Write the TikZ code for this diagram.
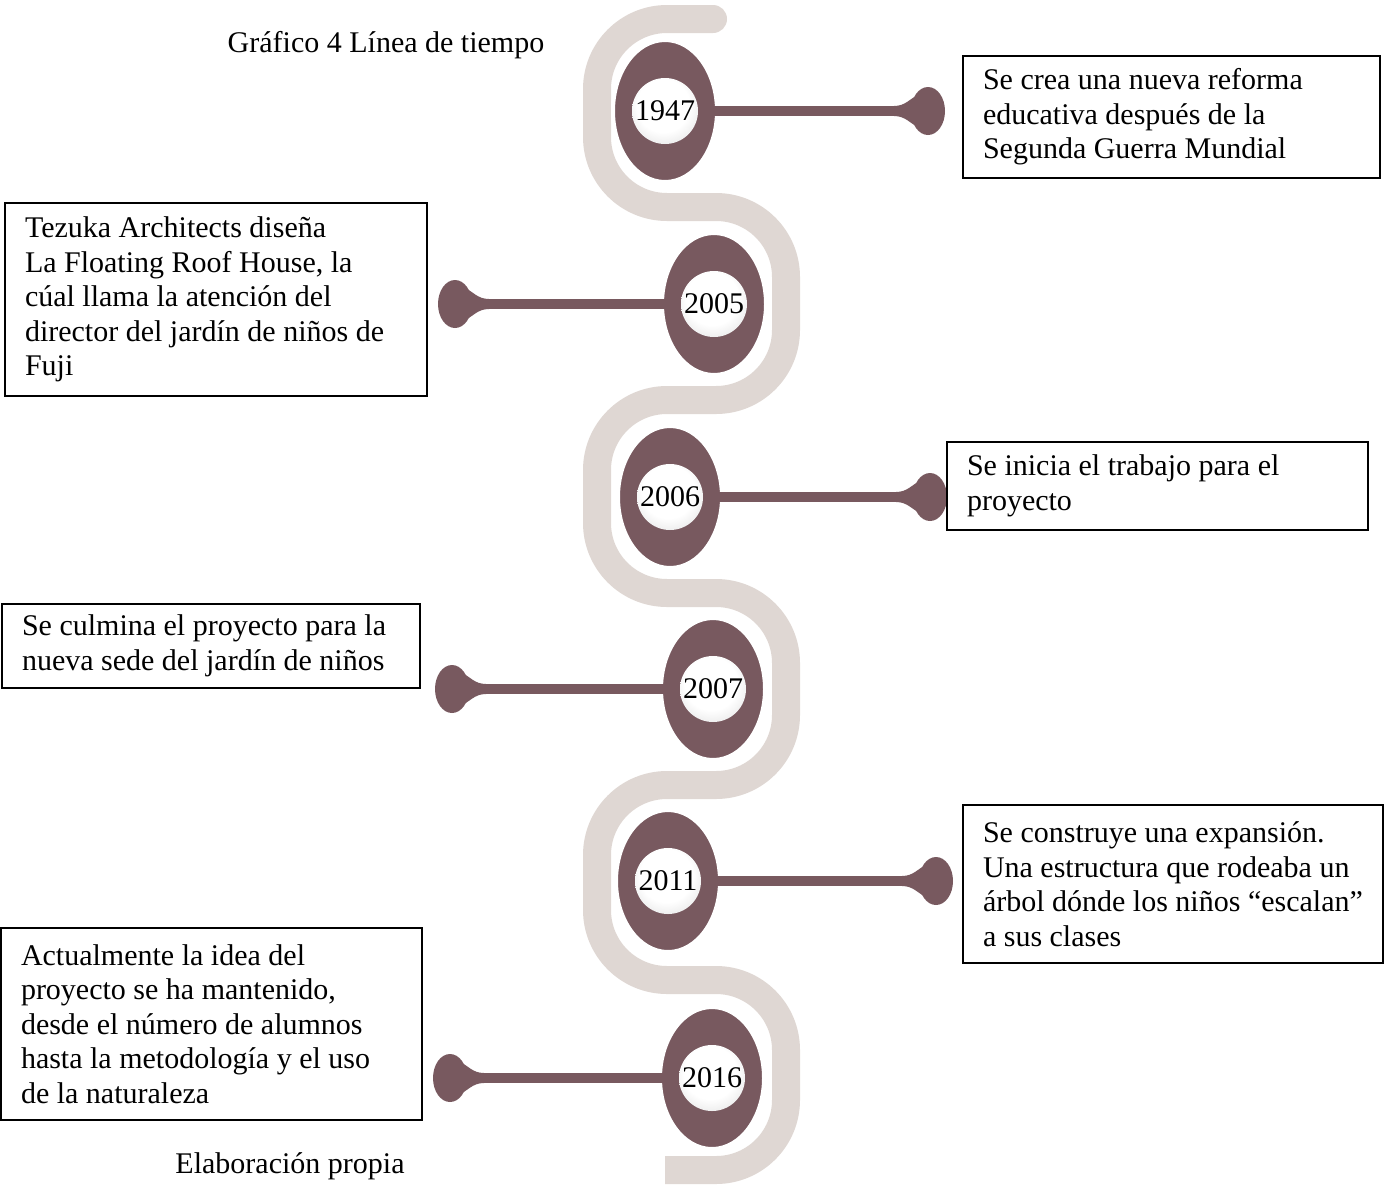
\documentclass[tikz,border=0pt]{standalone}
\usepackage{fontspec}
\setmainfont{Liberation Serif}
\usetikzlibrary{shapes.geometric,calc}
\definecolor{dark}{RGB}{120,89,95}
\definecolor{beige}{RGB}{223,215,211}
\pgfdeclareradialshading{orb}{\pgfpoint{-2bp}{6bp}}{color(0bp)=(white); color(20bp)=(white); color(38bp)=(black!14); color(52bp)=(black!36); color(60bp)=(black!36)}
\newcommand\flare[2]{\fill[dark, shift={(#1.center)}, xscale=#2] (-34,-5) .. controls (-22,-5) and (-18,-13) .. (-8,-17) -- (-8,17) .. controls (-18,13) and (-22,5) .. (-34,5) -- cycle;}
\begin{document}
\begin{tikzpicture}[x=1pt,y=-1pt,
  every node/.style={font=\fontsize{30}{34.5}\selectfont},
  ell/.style={ellipse, fill=dark, draw=white, line width=4pt, minimum width=104pt, minimum height=142pt, inner sep=0pt},
  yearball/.style={circle, shading=orb, minimum size=66pt, inner sep=0pt},
  pin/.style={ellipse, fill=dark, minimum width=34pt, minimum height=48pt, inner sep=0pt},
  conn/.style={dark, line width=10pt},
  box/.style={draw=black, line width=1.6pt, align=flush left, inner xsep=20pt, inner ysep=0pt, fill=white},
  band/.style={beige, line width=28pt, rounded corners=70pt}]
\clip (0,0) rectangle (1384,1184);
\useasboundingbox (0,0) rectangle (1384,1184);

% wave band
\draw[band] (713,19) -- (597,19) -- (597,207) -- (786,207) -- (786,400) -- (597,400) -- (597,593) -- (786,593) -- (786,785) -- (597,785) -- (597,980) -- (786,980) -- (786,1170) -- (665,1170);
\fill[beige] (713,19) circle (14pt);

% year ellipses
\node[ell] (e1) at (665,111) {};
\node[ell] (e2) at (714,304) {};
\node[ell] (e3) at (670,497) {};
\node[ell] (e4) at (713,689) {};
\node[ell] (e5) at (668,881) {};
\node[ell] (e6) at (712,1078) {};

% pins
\node[pin] (d1) at (928,111) {};
\node[pin] (d2) at (455,304) {};
\node[pin] (d3) at (930,497) {};
\node[pin] (d4) at (452,689) {};
\node[pin] (d5) at (936,881) {};
\node[pin] (d6) at (450,1078) {};

% connectors
\draw[conn] (e1.center) -- (d1.center);
\draw[conn] (e2.center) -- (d2.center);
\draw[conn] (e3.center) -- (d3.center);
\draw[conn] (e4.center) -- (d4.center);
\draw[conn] (e5.center) -- (d5.center);
\draw[conn] (e6.center) -- (d6.center);
\flare{d1}{1}
\flare{d2}{-1}
\flare{d3}{1}
\flare{d4}{-1}
\flare{d5}{1}
\flare{d6}{-1}

% year balls
\node[yearball] (y1) at (e1) {1947};
\node[yearball] (y2) at (e2) {2005};
\node[yearball] (y3) at (e3) {2006};
\node[yearball] (y4) at (e4) {2007};
\node[yearball] (y5) at (e5) {2011};
\node[yearball] (y6) at (e6) {2016};

% boxes
\node[box, minimum width=417pt, minimum height=122pt, text width=377pt] (b1) at (1171.5,117)
  {Se crea una nueva reforma\\educativa después de la\\Segunda Guerra Mundial};
\node[box, minimum width=422pt, minimum height=193pt, text width=382pt] (b2) at (216,299.5)
  {Tezuka Architects diseña\\La Floating Roof House, la\\cúal llama la atención del\\director del jardín de niños de\\Fuji};
\node[box, minimum width=421pt, minimum height=88pt, text width=381pt] (b3) at (1157.5,486)
  {Se inicia el trabajo para el\\proyecto};
\node[box, minimum width=418pt, minimum height=84pt, text width=378pt] (b4) at (211,646)
  {Se culmina el proyecto para la\\nueva sede del jardín de niños};
\node[box, minimum width=420pt, minimum height=158pt, text width=380pt] (b5) at (1173,884)
  {Se construye una expansión.\\Una estructura que rodeaba un\\árbol dónde los niños “escalan”\\a sus clases};
\node[box, minimum width=421pt, minimum height=192pt, text width=381pt] (b6) at (211.5,1024)
  {Actualmente la idea del\\proyecto se ha mantenido,\\desde el número de alumnos\\hasta la metodología y el uso\\de la naturaleza};

% captions
\node (title) at (386,45) {Gráfico 4 Línea de tiempo};
\node (source) at (290,1166) {Elaboración propia};
\end{tikzpicture}
\end{document}
